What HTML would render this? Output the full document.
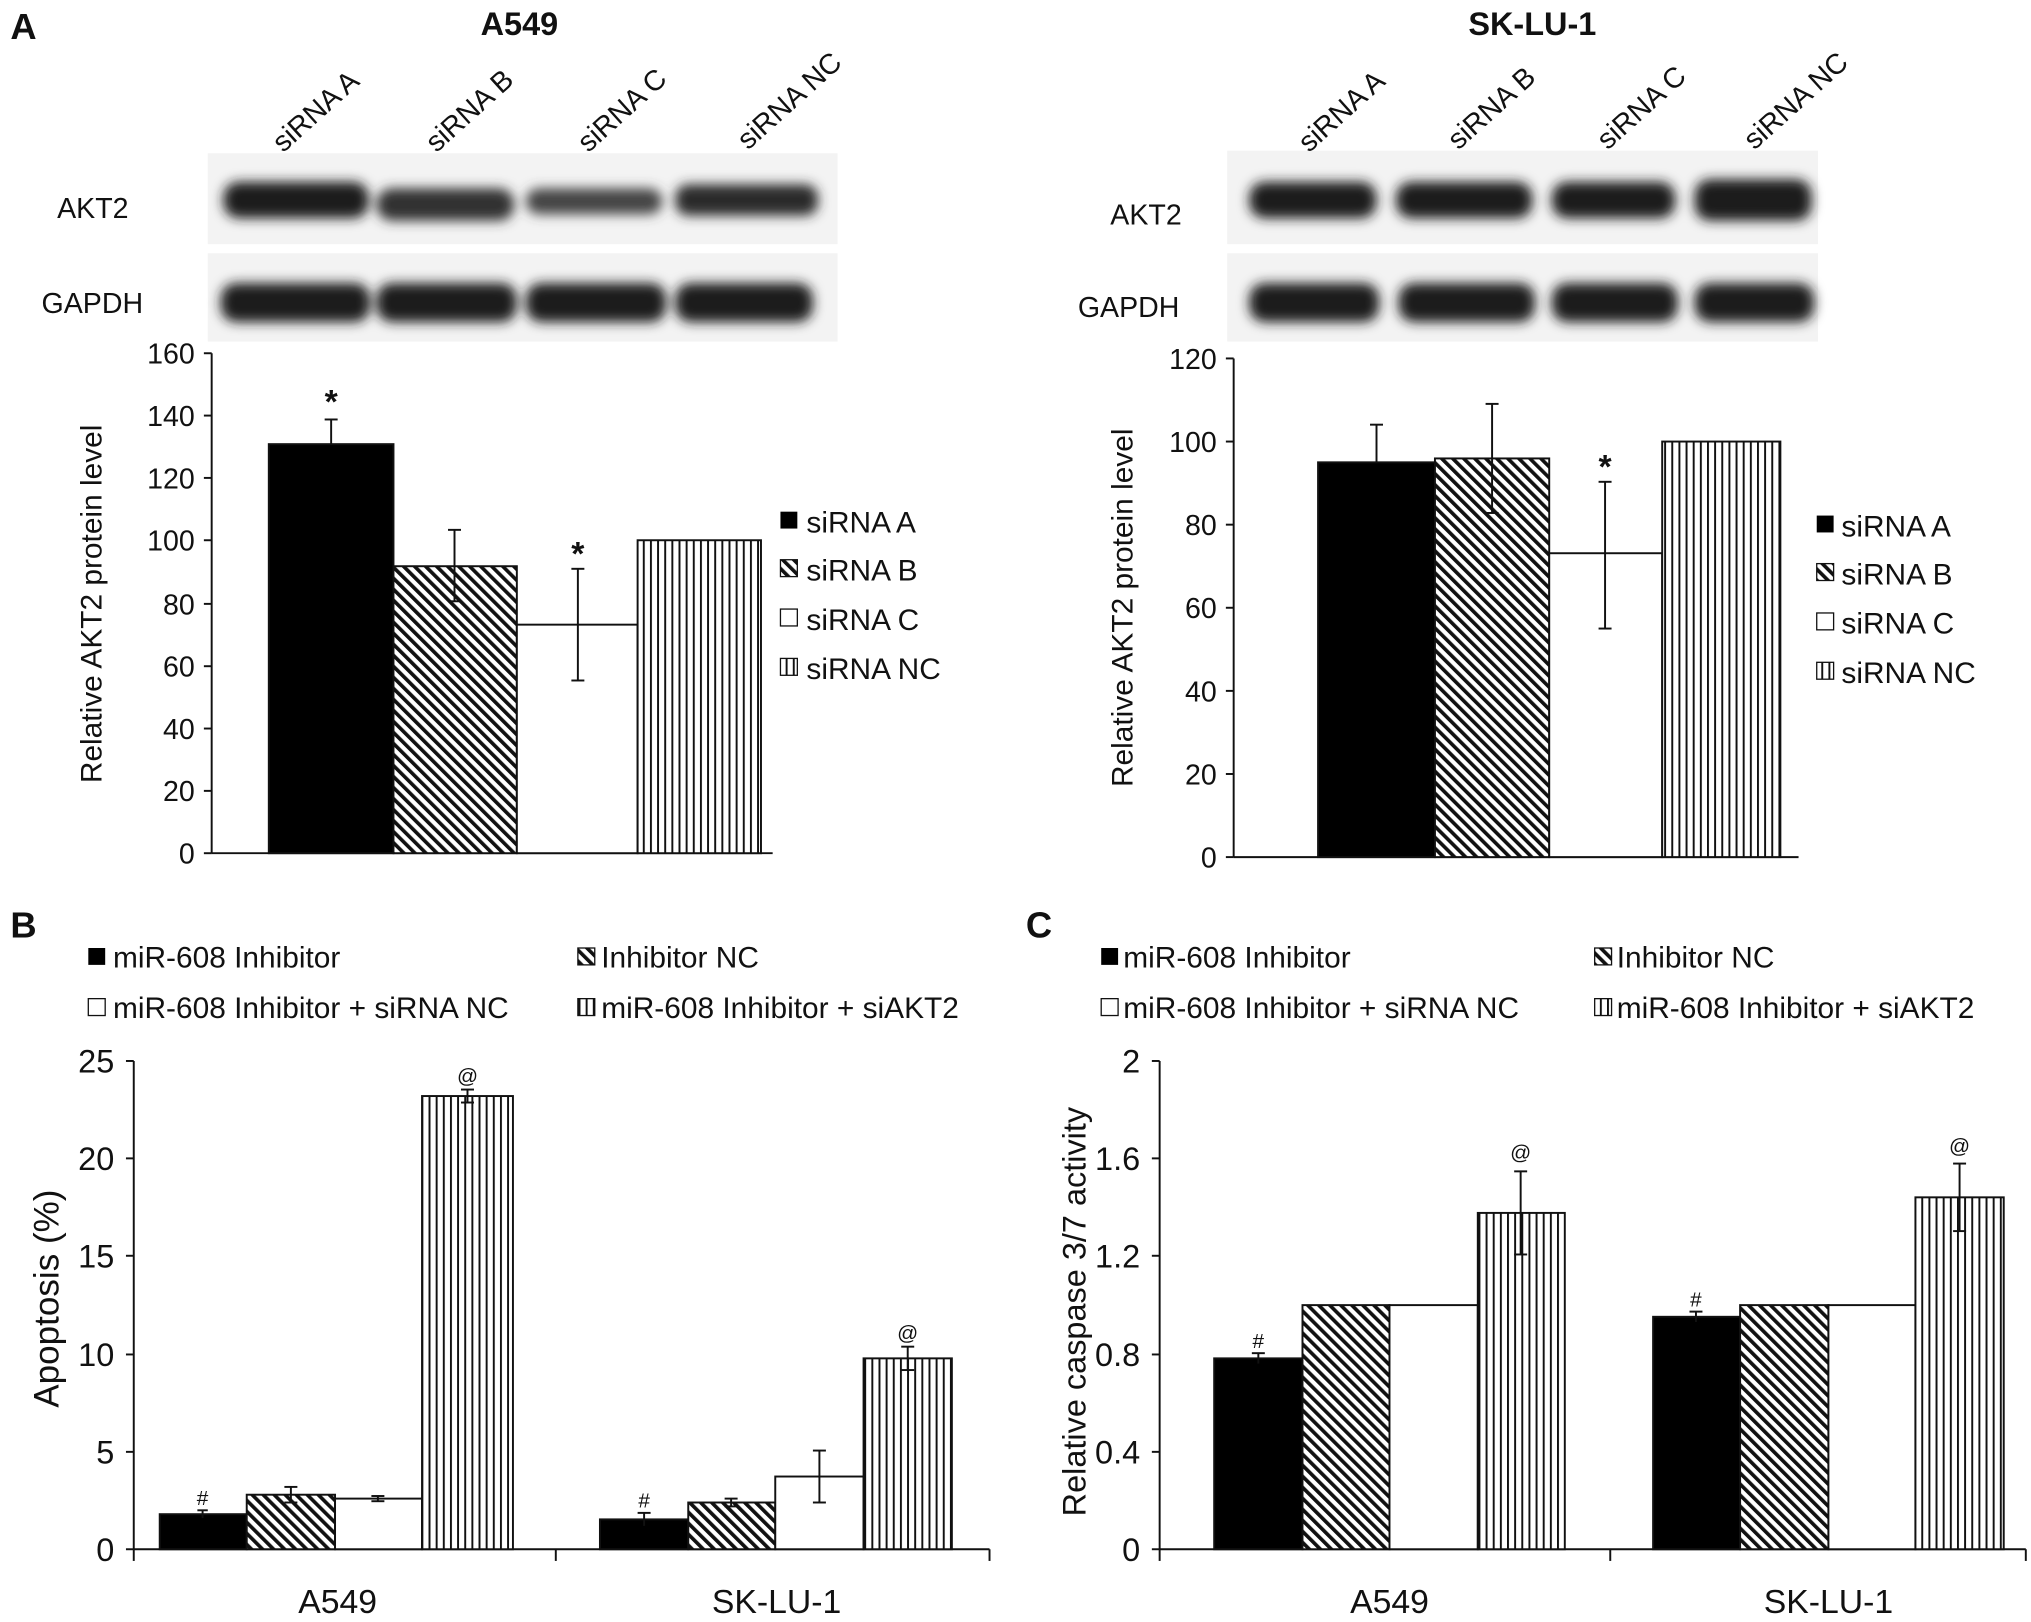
<!DOCTYPE html>
<html><head><meta charset="utf-8"><style>html,body{margin:0;padding:0;background:#fff}svg{display:block}text{font-family:"Liberation Sans",Arial,sans-serif;fill:#111}</style></head>
<body>
<svg width="2031" height="1622" viewBox="0 0 1564 1249" xmlns="http://www.w3.org/2000/svg">
<defs>
<pattern id="diag" patternUnits="userSpaceOnUse" width="6" height="6" patternTransform="rotate(-45)">
<rect width="6" height="6" fill="#fff"/><rect width="2.8" height="6" fill="#111"/></pattern>
<pattern id="vert" patternUnits="userSpaceOnUse" width="5.5" height="6">
<rect width="5.5" height="6" fill="#fff"/><rect width="1.5" height="6" fill="#111"/></pattern>
<filter id="bl" x="-20%" y="-50%" width="140%" height="200%"><feGaussianBlur stdDeviation="4.5"/></filter>
</defs>
<g font-size="22">
<text x="8" y="30" font-size="28" font-weight="bold">A</text>
<text x="8" y="722" font-size="28" font-weight="bold">B</text>
<text x="790" y="722" font-size="28" font-weight="bold">C</text>
<text x="400" y="27" font-size="25" font-weight="bold" text-anchor="middle">A549</text>
<text x="1180" y="27" font-size="25" font-weight="bold" text-anchor="middle">SK-LU-1</text>

<rect x="160" y="118" width="485" height="70" fill="#f3f3f3"/>
<rect x="160" y="195" width="485" height="68" fill="#f3f3f3"/>
<g filter="url(#bl)" fill="#1a1a1a">
<rect x="172" y="140" width="112" height="28" rx="12"/>
<rect x="290" y="145" width="106" height="25" rx="12" fill="#333"/>
<rect x="405" y="145" width="105" height="20" rx="10" fill="#444"/>
<rect x="520" y="142" width="110" height="24" rx="10" fill="#2a2a2a"/>
<rect x="170" y="218" width="115" height="30" rx="12"/>
<rect x="290" y="218" width="108" height="30" rx="12"/>
<rect x="405" y="218" width="108" height="30" rx="12"/>
<rect x="520" y="218" width="106" height="30" rx="12"/>
</g>
<text x="44" y="168" font-size="22">AKT2</text>
<text x="32" y="241" font-size="22">GAPDH</text>
<g font-size="22">
<text transform="translate(218,118) rotate(-42)">siRNA A</text>
<text transform="translate(336,118) rotate(-42)">siRNA B</text>
<text transform="translate(453,118) rotate(-42)">siRNA C</text>
<text transform="translate(576,116) rotate(-42)">siRNA NC</text>
</g>

<rect x="945" y="116" width="455" height="72" fill="#f3f3f3"/>
<rect x="945" y="195" width="455" height="68" fill="#f3f3f3"/>
<g filter="url(#bl)" fill="#1a1a1a">
<rect x="962" y="140" width="98" height="28" rx="12"/>
<rect x="1075" y="140" width="105" height="28" rx="12"/>
<rect x="1195" y="140" width="95" height="28" rx="12"/>
<rect x="1305" y="138" width="90" height="32" rx="12"/>
<rect x="962" y="218" width="100" height="30" rx="12"/>
<rect x="1077" y="218" width="105" height="30" rx="12"/>
<rect x="1195" y="218" width="97" height="30" rx="12"/>
<rect x="1305" y="218" width="92" height="30" rx="12"/>
</g>
<text x="855" y="173" font-size="22">AKT2</text>
<text x="830" y="244" font-size="22">GAPDH</text>
<g font-size="22">
<text transform="translate(1008,118) rotate(-42)">siRNA A</text>
<text transform="translate(1123,116) rotate(-42)">siRNA B</text>
<text transform="translate(1238,116) rotate(-42)">siRNA C</text>
<text transform="translate(1351,116) rotate(-42)">siRNA NC</text>
</g>

<g stroke="#111" stroke-width="1.5">
<line x1="163" y1="272" x2="163" y2="657"/>
<line x1="163" y1="657" x2="595" y2="657"/>
<line x1="157" y1="272" x2="163" y2="272"/><line x1="157" y1="320" x2="163" y2="320"/><line x1="157" y1="368" x2="163" y2="368"/><line x1="157" y1="416" x2="163" y2="416"/><line x1="157" y1="465" x2="163" y2="465"/><line x1="157" y1="513" x2="163" y2="513"/><line x1="157" y1="561" x2="163" y2="561"/><line x1="157" y1="609" x2="163" y2="609"/><line x1="157" y1="657" x2="163" y2="657"/>
<rect x="207" y="342" width="96" height="315" fill="#000"/>
<rect x="303" y="436" width="95" height="221" fill="url(#diag)"/>
<rect x="398" y="481" width="93" height="176" fill="#fff"/>
<rect x="491" y="416" width="95" height="241" fill="url(#vert)"/>
<line x1="255" y1="323" x2="255" y2="342"/><line x1="250" y1="323" x2="260" y2="323"/>
<line x1="350" y1="408" x2="350" y2="463"/><line x1="345" y1="408" x2="355" y2="408"/><line x1="345" y1="463" x2="355" y2="463"/>
<line x1="445" y1="438" x2="445" y2="524"/><line x1="440" y1="438" x2="450" y2="438"/><line x1="440" y1="524" x2="450" y2="524"/>
</g>
<g text-anchor="end" font-size="22">
<text x="150" y="280">160</text><text x="150" y="328">140</text><text x="150" y="376">120</text><text x="150" y="424">100</text><text x="150" y="473">80</text><text x="150" y="521">60</text><text x="150" y="569">40</text><text x="150" y="617">20</text><text x="150" y="665">0</text>
</g>
<text x="255" y="318" font-size="26" font-weight="bold" text-anchor="middle">*</text>
<text x="445" y="435" font-size="26" font-weight="bold" text-anchor="middle">*</text>
<text transform="translate(78,465) rotate(-90)" text-anchor="middle" font-size="23">Relative AKT2 protein level</text>
<g font-size="23">
<rect x="601" y="394" width="13" height="13" fill="#000"/><text x="621" y="410">siRNA A</text>
<rect x="601" y="431" width="13" height="13" fill="url(#diag)" stroke="#111"/><text x="621" y="447">siRNA B</text>
<rect x="601" y="469" width="13" height="13" fill="#fff" stroke="#111"/><text x="621" y="485">siRNA C</text>
<rect x="601" y="507" width="13" height="13" fill="url(#vert)" stroke="#111"/><text x="621" y="523">siRNA NC</text>
</g>

<g stroke="#111" stroke-width="1.5">
<line x1="950" y1="276" x2="950" y2="660"/>
<line x1="950" y1="660" x2="1385" y2="660"/>
<line x1="944" y1="276" x2="950" y2="276"/><line x1="944" y1="340" x2="950" y2="340"/><line x1="944" y1="404" x2="950" y2="404"/><line x1="944" y1="468" x2="950" y2="468"/><line x1="944" y1="532" x2="950" y2="532"/><line x1="944" y1="596" x2="950" y2="596"/><line x1="944" y1="660" x2="950" y2="660"/>
<rect x="1015" y="356" width="90" height="304" fill="#000"/>
<rect x="1105" y="353" width="88" height="307" fill="url(#diag)"/>
<rect x="1193" y="426" width="87" height="234" fill="#fff"/>
<rect x="1280" y="340" width="91" height="320" fill="url(#vert)"/>
<line x1="1060" y1="327" x2="1060" y2="356"/><line x1="1055" y1="327" x2="1065" y2="327"/>
<line x1="1149" y1="311" x2="1149" y2="395"/><line x1="1144" y1="311" x2="1154" y2="311"/><line x1="1144" y1="395" x2="1154" y2="395"/>
<line x1="1236" y1="371" x2="1236" y2="484"/><line x1="1231" y1="371" x2="1241" y2="371"/><line x1="1231" y1="484" x2="1241" y2="484"/>
</g>
<g text-anchor="end" font-size="22">
<text x="937" y="284">120</text><text x="937" y="348">100</text><text x="937" y="412">80</text><text x="937" y="476">60</text><text x="937" y="540">40</text><text x="937" y="604">20</text><text x="937" y="668">0</text>
</g>
<text x="1236" y="368" font-size="26" font-weight="bold" text-anchor="middle">*</text>
<text transform="translate(872,468) rotate(-90)" text-anchor="middle" font-size="23">Relative AKT2 protein level</text>
<g font-size="23">
<rect x="1399" y="397" width="13" height="13" fill="#000"/><text x="1418" y="413">siRNA A</text>
<rect x="1399" y="434" width="13" height="13" fill="url(#diag)" stroke="#111"/><text x="1418" y="450">siRNA B</text>
<rect x="1399" y="472" width="13" height="13" fill="#fff" stroke="#111"/><text x="1418" y="488">siRNA C</text>
<rect x="1399" y="510" width="13" height="13" fill="url(#vert)" stroke="#111"/><text x="1418" y="526">siRNA NC</text>
</g>

<g font-size="23">
<rect x="68" y="730" width="13" height="13" fill="#000"/><text x="87" y="745">miR-608 Inhibitor</text>
<rect x="445" y="730" width="13" height="13" fill="url(#diag)" stroke="#111"/><text x="463" y="745">Inhibitor NC</text>
<rect x="68" y="769" width="13" height="13" fill="#fff" stroke="#111"/><text x="87" y="784">miR-608 Inhibitor + siRNA NC</text>
<rect x="445" y="769" width="13" height="13" fill="url(#vert)" stroke="#111"/><text x="463" y="784">miR-608 Inhibitor + siAKT2</text>
<rect x="848" y="730" width="13" height="13" fill="#000"/><text x="865" y="745">miR-608 Inhibitor</text>
<rect x="1228" y="730" width="13" height="13" fill="url(#diag)" stroke="#111"/><text x="1245" y="745">Inhibitor NC</text>
<rect x="848" y="769" width="13" height="13" fill="#fff" stroke="#111"/><text x="865" y="784">miR-608 Inhibitor + siRNA NC</text>
<rect x="1228" y="769" width="13" height="13" fill="url(#vert)" stroke="#111"/><text x="1245" y="784">miR-608 Inhibitor + siAKT2</text>
</g>

<g stroke="#111" stroke-width="1.5">
<line x1="103" y1="817" x2="103" y2="1193"/>
<line x1="103" y1="1193" x2="762" y2="1193"/>
<line x1="97" y1="817" x2="103" y2="817"/><line x1="97" y1="892" x2="103" y2="892"/><line x1="97" y1="967" x2="103" y2="967"/><line x1="97" y1="1043" x2="103" y2="1043"/><line x1="97" y1="1118" x2="103" y2="1118"/><line x1="97" y1="1193" x2="103" y2="1193"/>
<line x1="428" y1="1193" x2="428" y2="1202"/><line x1="762" y1="1193" x2="762" y2="1202"/><line x1="103" y1="1193" x2="103" y2="1202"/>
<rect x="123" y="1166" width="67" height="27" fill="#000"/>
<rect x="190" y="1151" width="68" height="42" fill="url(#diag)"/>
<rect x="258" y="1154" width="67" height="39" fill="#fff"/>
<rect x="325" y="844" width="70" height="349" fill="url(#vert)"/>
<rect x="462" y="1170" width="68" height="23" fill="#000"/>
<rect x="530" y="1157" width="67" height="36" fill="url(#diag)"/>
<rect x="597" y="1137" width="68" height="56" fill="#fff"/>
<rect x="665" y="1046" width="68" height="147" fill="url(#vert)"/>
<line x1="156" y1="1163" x2="156" y2="1169"/><line x1="152" y1="1163" x2="160" y2="1163"/>
<line x1="224" y1="1145" x2="224" y2="1157"/><line x1="219" y1="1145" x2="229" y2="1145"/><line x1="219" y1="1157" x2="229" y2="1157"/>
<line x1="291" y1="1152" x2="291" y2="1156"/><line x1="286" y1="1152" x2="296" y2="1152"/><line x1="286" y1="1156" x2="296" y2="1156"/>
<line x1="360" y1="839" x2="360" y2="849"/><line x1="355" y1="839" x2="365" y2="839"/><line x1="355" y1="849" x2="365" y2="849"/>
<line x1="496" y1="1165" x2="496" y2="1175"/><line x1="491" y1="1165" x2="501" y2="1165"/>
<line x1="563" y1="1154" x2="563" y2="1160"/><line x1="558" y1="1154" x2="568" y2="1154"/><line x1="558" y1="1160" x2="568" y2="1160"/>
<line x1="631" y1="1117" x2="631" y2="1157"/><line x1="626" y1="1117" x2="636" y2="1117"/><line x1="626" y1="1157" x2="636" y2="1157"/>
<line x1="699" y1="1037" x2="699" y2="1055"/><line x1="694" y1="1037" x2="704" y2="1037"/><line x1="694" y1="1055" x2="704" y2="1055"/>
</g>
<g text-anchor="end" font-size="25">
<text x="88" y="826">25</text><text x="88" y="901">20</text><text x="88" y="976">15</text><text x="88" y="1052">10</text><text x="88" y="1127">5</text><text x="88" y="1202">0</text>
</g>
<g font-size="16" text-anchor="middle">
<text x="156" y="1159">#</text><text x="360" y="834">@</text><text x="496" y="1161">#</text><text x="699" y="1032">@</text>
</g>
<text transform="translate(45,1000) rotate(-90)" text-anchor="middle" font-size="27">Apoptosis (%)</text>
<g font-size="26" text-anchor="middle"><text x="260" y="1242">A549</text><text x="598" y="1242">SK-LU-1</text></g>

<g stroke="#111" stroke-width="1.5">
<line x1="893" y1="817" x2="893" y2="1193"/>
<line x1="893" y1="1193" x2="1560" y2="1193"/>
<line x1="887" y1="817" x2="893" y2="817"/><line x1="887" y1="892" x2="893" y2="892"/><line x1="887" y1="967" x2="893" y2="967"/><line x1="887" y1="1043" x2="893" y2="1043"/><line x1="887" y1="1118" x2="893" y2="1118"/><line x1="887" y1="1193" x2="893" y2="1193"/>
<line x1="893" y1="1193" x2="893" y2="1202"/><line x1="1240" y1="1193" x2="1240" y2="1202"/><line x1="1560" y1="1193" x2="1560" y2="1202"/>
<rect x="935" y="1046" width="68" height="147" fill="#000"/>
<rect x="1003" y="1005" width="67" height="188" fill="url(#diag)"/>
<rect x="1070" y="1005" width="68" height="188" fill="#fff"/>
<rect x="1138" y="934" width="67" height="259" fill="url(#vert)"/>
<rect x="1273" y="1014" width="67" height="179" fill="#000"/>
<rect x="1340" y="1005" width="68" height="188" fill="url(#diag)"/>
<rect x="1408" y="1005" width="67" height="188" fill="#fff"/>
<rect x="1475" y="922" width="68" height="271" fill="url(#vert)"/>
<line x1="969" y1="1042" x2="969" y2="1050"/><line x1="964" y1="1042" x2="974" y2="1042"/>
<line x1="1171" y1="902" x2="1171" y2="966"/><line x1="1166" y1="902" x2="1176" y2="902"/><line x1="1166" y1="966" x2="1176" y2="966"/>
<line x1="1306" y1="1010" x2="1306" y2="1018"/><line x1="1301" y1="1010" x2="1311" y2="1010"/>
<line x1="1509" y1="896" x2="1509" y2="948"/><line x1="1504" y1="896" x2="1514" y2="896"/><line x1="1504" y1="948" x2="1514" y2="948"/>
</g>
<g text-anchor="end" font-size="25">
<text x="878" y="826">2</text><text x="878" y="901">1.6</text><text x="878" y="976">1.2</text><text x="878" y="1052">0.8</text><text x="878" y="1127">0.4</text><text x="878" y="1202">0</text>
</g>
<g font-size="16" text-anchor="middle">
<text x="969" y="1038">#</text><text x="1171" y="893">@</text><text x="1306" y="1006">#</text><text x="1509" y="888">@</text>
</g>
<text transform="translate(836,1010) rotate(-90)" text-anchor="middle" font-size="25">Relative caspase 3/7 activity</text>
<g font-size="26" text-anchor="middle"><text x="1070" y="1242">A549</text><text x="1408" y="1242">SK-LU-1</text></g>
</g>
</svg>
</body></html>
